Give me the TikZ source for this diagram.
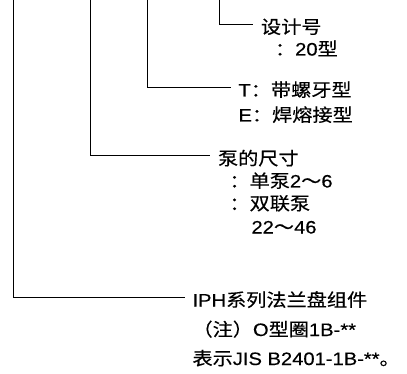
\documentclass[tikz,border=0pt]{standalone}
\usepackage{fontspec}
\setmainfont{Liberation Sans}[FakeStretch=1.12,FakeBold=0.4]
\newfontfamily\zh{Noto Sans CJK SC}[FakeStretch=1.12,FakeBold=0.4]
\tikzset{
  lbl/.style={inner sep=0pt, outer xsep=8pt, text height=19pt, text depth=0pt,
    anchor=base west, font=\fontsize{18}{20}\selectfont, text=black},
  conn/.style={draw=black, line width=0.9pt},
}
\begin{document}
\begin{tikzpicture}[x=1pt,y=-1pt]
\useasboundingbox (0,0) rectangle (407,374);
% top ends of the vertical connectors
\coordinate (tD) at (13.3,0);
\coordinate (tC) at (90,0);
\coordinate (tB) at (147.3,0);
\coordinate (tA) at (219,0);
% block A
\node[lbl] (A1) at (253,33.5) {\zh 设计号};
\node[lbl] (A2) at (267,55.5) {\zh ：\rmfamily 20\zh 型};
% block B
\node[lbl] (B1) at (230.5,96.5) {T\zh ：带螺牙型};
\node[lbl] (B2) at (230.5,121.5) {E\zh ：焊熔接型};
% block C
\node[lbl] (C1) at (210,165) {\zh 泵的尺寸};
\node[lbl] (C2) at (221.5,187.5) {\zh ：单泵\rmfamily 2\zh ～\rmfamily 6};
\node[lbl] (C3) at (221.5,210) {\zh ：双联泵};
\node[lbl] (C4) at (243.5,233.5) {22{\zh ～}46};
% block D
\node[lbl] (D1) at (184.5,306.5) {IPH{\zh 系列法兰盘组件}};
\node[lbl] (D2) at (184.5,336) {{\zh （注）}O{\zh 型圈}1B-**};
\node[lbl] (D3) at (184.5,365) {{\zh 表示}JIS B2401-1B-**{\zh 。}};
% connectors
\draw[conn] (tA) |- (A1.west);
\draw[conn] (tB) |- (B1.west);
\draw[conn] (tC) |- (C1.west);
\draw[conn] (tD) |- (D1.west);
\end{tikzpicture}
\end{document}
